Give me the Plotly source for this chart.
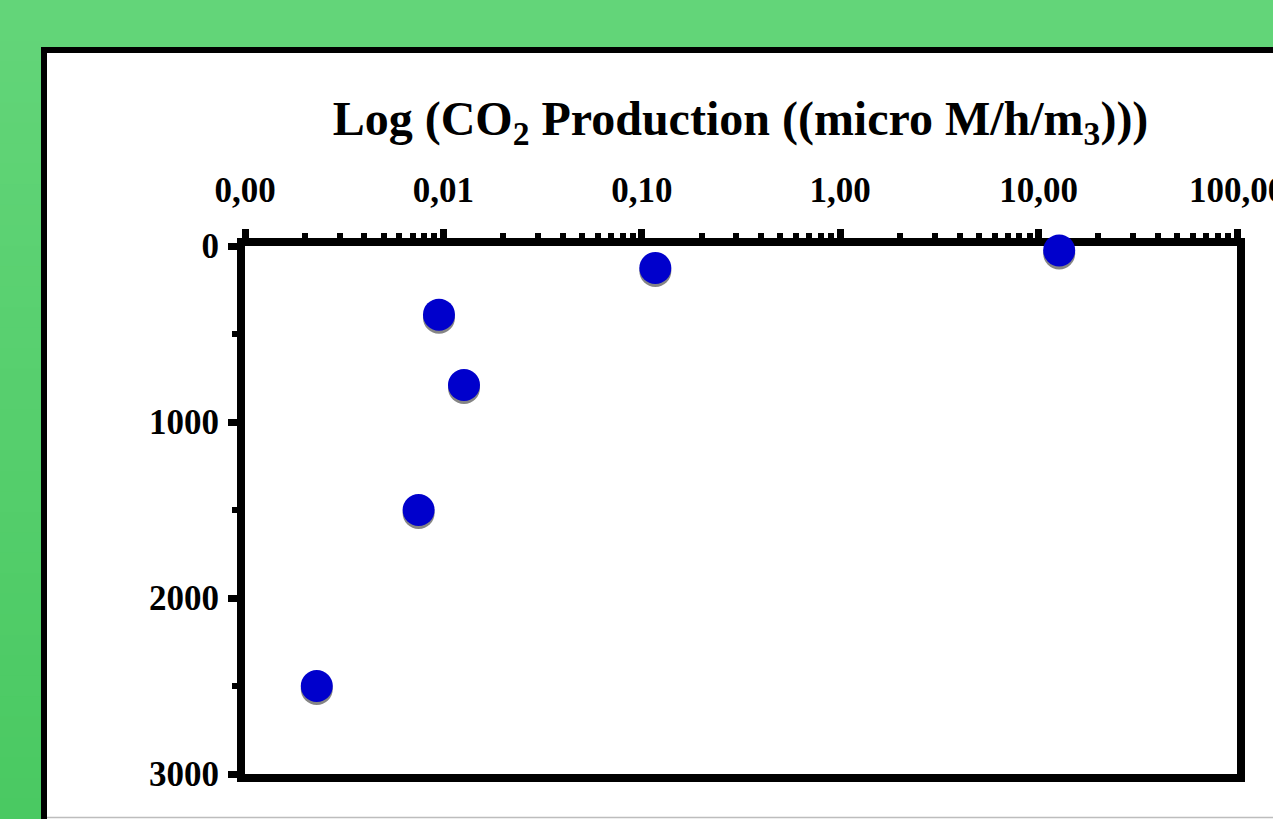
import plotly.graph_objects as go

# ---- data ----
co2_production = [12.7, 0.117, 0.0095, 0.0127, 0.0075, 0.0023]
depth = [25, 125, 390, 790, 1500, 2500]

x_tick_vals = [0.001, 0.01, 0.1, 1, 10, 100]
x_tick_text = ["0,00", "0,01", "0,10", "1,00", "10,00", "100,00"]
y_tick_vals = [0, 1000, 2000, 3000]
y_tick_text = ["0", "1000", "2000", "3000"]

W, H = 1273, 819
L, R, T, B = 245, 36, 246, 45
PW, PH = W - L - R, H - T - B

def px_x(p):
    return (p - L) / PW

def px_y(p):
    return 1 - (p - T) / PH

FONT = "Liberation Serif"
BLUE = "#0000CC"

fig = go.Figure()

# empty trace registering the main (visible) axes
fig.add_trace(go.Scatter(x=[], y=[], mode="markers", xaxis="x", yaxis="y",
                         showlegend=False, hoverinfo="skip"))
# shadow (same data, drawn on an overlaid axis shifted a few pixels down)
shift = 3 / PH * 3000
fig.add_trace(go.Scatter(
    x=co2_production, y=depth, mode="markers", xaxis="x", yaxis="y2",
    marker=dict(size=32, color="rgba(120,120,120,0.9)", line=dict(width=0)),
    cliponaxis=False, hoverinfo="skip", showlegend=False,
))
fig.add_trace(go.Scatter(
    x=co2_production, y=depth, mode="markers", xaxis="x", yaxis="y3",
    marker=dict(size=32, color=BLUE, line=dict(width=0)),
    cliponaxis=False, showlegend=False,
))

# green gradient background bands
shapes = []
n = 40
top_c = (99, 213, 121)
bot_c = (74, 201, 98)
for i in range(n):
    t = i / (n - 1)
    c = tuple(round(top_c[k] + (bot_c[k] - top_c[k]) * t) for k in range(3))
    shapes.append(dict(
        type="rect", xref="paper", yref="paper", layer="below",
        x0=px_x(0), x1=px_x(W), y0=px_y(H * i / n), y1=px_y(H * (i + 1) / n + 1),
        fillcolor="rgb(%d,%d,%d)" % c, line=dict(width=0),
    ))
# white panel with black frame
shapes.append(dict(
    type="rect", xref="paper", yref="paper", layer="below",
    x0=px_x(44), x1=px_x(W + 40), y0=px_y(50), y1=px_y(H + 40),
    fillcolor="white", line=dict(color="black", width=6),
))
shapes.append(dict(
    type="line", xref="paper", yref="paper", layer="below",
    x0=px_x(47), x1=px_x(W), y0=px_y(817.5), y1=px_y(817.5),
    line=dict(color="#bdbdbd", width=1.5),
))

fig.update_layout(
    width=W, height=H,
    margin=dict(l=L, r=R, t=T, b=B, autoexpand=False),
    paper_bgcolor="rgb(88,207,110)",
    plot_bgcolor="white",
    shapes=shapes,
    title=dict(
        text="Log (CO<sub>2</sub> Production ((micro M/h/m<sub>3</sub>)))",
        font=dict(family=FONT, size=48, color="black", weight="bold"),
        x=px_x(740.5), xref="paper", xanchor="center",
        y=1 - 118 / H, yref="container", yanchor="middle",
    ),
    xaxis=dict(
        type="log", range=[-3, 2], side="top",
        tickvals=x_tick_vals, ticktext=x_tick_text,
        tickfont=dict(family=FONT, size=35, color="black", weight="bold"),
        ticks="outside", ticklen=9, tickwidth=7, tickcolor="black",
        showline=True, linewidth=8, linecolor="black", mirror=True,
        showgrid=False, zeroline=False, layer="below traces",
        minor=dict(dtick="D1", ticks="outside", ticklen=5, tickwidth=6,
                   tickcolor="black", showgrid=False),
        ticklabelstandoff=13, ticklabeloverflow="allow",
    ),
    yaxis=dict(
        range=[3000, 0],
        tickvals=y_tick_vals, ticktext=y_tick_text,
        tickfont=dict(family=FONT, size=35, color="black", weight="bold"),
        ticks="outside", ticklen=9, tickwidth=7, tickcolor="black",
        showline=True, linewidth=8, linecolor="black", mirror=True,
        showgrid=False, zeroline=False, layer="below traces",
        minor=dict(dtick=500, ticks="outside", ticklen=5, tickwidth=6,
                   tickcolor="black", showgrid=False),
        ticklabelstandoff=2, ticklabeloverflow="allow",
    ),
    yaxis2=dict(
        range=[3000 - shift, 0 - shift], overlaying="y", visible=False,
    ),
    yaxis3=dict(
        range=[3000, 0], overlaying="y", visible=False,
    ),
)

fig.write_html(
    "out.html",
    config={"displayModeBar": False},
    post_script="document.body.style.margin='0';document.body.style.overflow='hidden';",
)
